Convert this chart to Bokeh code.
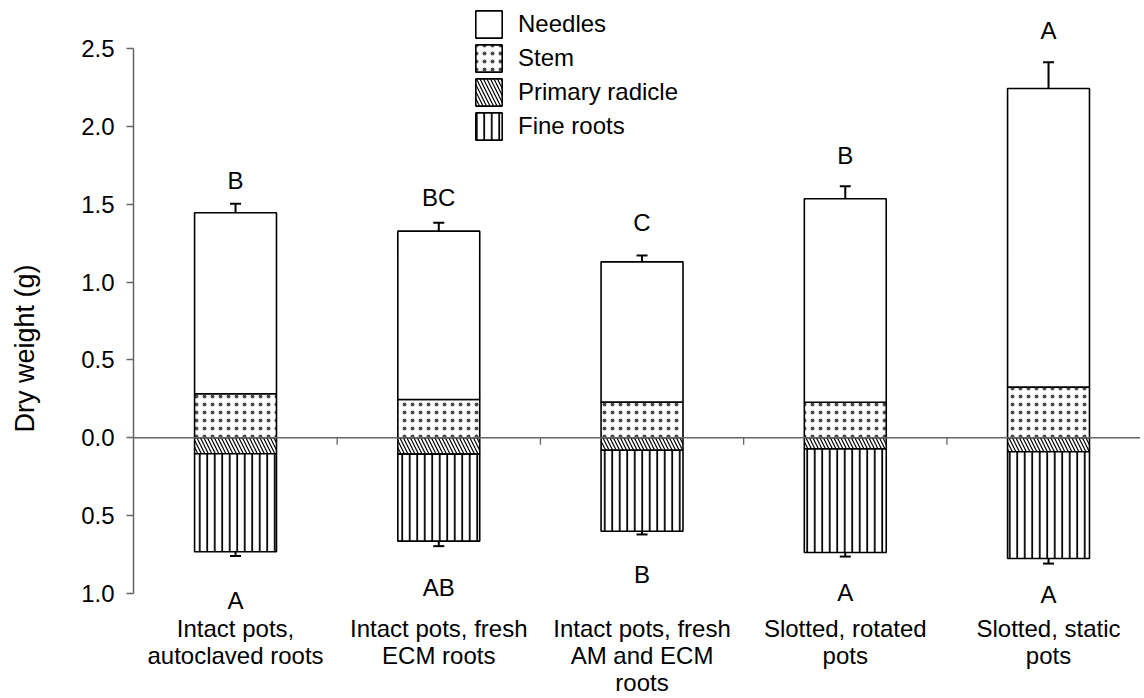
from bokeh.plotting import figure
from bokeh.models import (Range1d, FixedTicker, Span, Whisker, ColumnDataSource,
                          Legend, LegendItem, TeeHead, CustomJSTickFormatter)
from bokeh.core.properties import value
from bokeh.embed import file_html
from bokeh.resources import INLINE

# ---------------- data ----------------
categories = ["Intact pots,\nautoclaved roots",
              "Intact pots, fresh\nECM roots",
              "Intact pots, fresh\nAM and ECM\nroots",
              "Slotted, rotated\npots",
              "Slotted, static\npots"]
needles = [1.162, 1.081, 0.901, 1.307, 1.918]
stem = [0.283, 0.246, 0.229, 0.228, 0.325]
primary_radicle = [0.103, 0.105, 0.080, 0.071, 0.090]
fine_roots = [0.629, 0.559, 0.520, 0.666, 0.685]
shoot_se = [0.058, 0.054, 0.041, 0.081, 0.169]
root_se = [0.028, 0.032, 0.021, 0.026, 0.033]
shoot_letters = ["B", "BC", "C", "B", "A"]
root_letters = ["A", "AB", "B", "A", "A"]
shoot_letter_y = [1.654, 1.541, 1.381, 1.815, 2.619]
root_letter_y = [-1.043, -0.963, -0.878, -0.995, -1.006]
y_ticks = [-1.0, -0.5, 0.0, 0.5, 1.0, 1.5, 2.0, 2.5]

FONT = "Liberation Sans"
FS = "24px"
AXIS_GREY = "#666666"

xs = [i + 1 for i in range(len(categories))]
shoot_total = [s + n for s, n in zip(stem, needles)]
root_total = [-(r + f) for r, f in zip(primary_radicle, fine_roots)]

src = ColumnDataSource(dict(
    x=xs, stem=stem, needles=needles,
    radicle=[-v for v in primary_radicle], fine=[-v for v in fine_roots],
))

p = figure(width=1140, height=696, x_range=Range1d(0.498, 5.4525),
           y_range=Range1d(-1.6618, 2.8086), output_backend="svg",
           toolbar_location=None, x_axis_location=None,
           min_border_left=133, min_border_right=0, min_border_top=0,
           min_border_bottom=0)
p.outline_line_color = None
p.xgrid.visible = False
p.ygrid.visible = False
p.background_fill_color = "white"

bar_w = 0.403
common = dict(x="x", width=bar_w, source=src, fill_color="white",
              line_color="black", line_width=1.6, hatch_color="black")

up = p.vbar_stack(["stem", "needles"], hatch_pattern=["dot", " "],
                  hatch_scale=[8, 8], hatch_weight=[0.5, 1],
                  hatch_alpha=[0.7, 1], **common)
down = p.vbar_stack(["radicle", "fine"],
                    hatch_pattern=["left_diagonal_line", "vertical_line"],
                    hatch_scale=[7, 7.5], hatch_weight=[1.2, 1.8], **common)

# error bars
wsrc_top = ColumnDataSource(dict(x=xs, lower=shoot_total,
                                 upper=[t + e for t, e in zip(shoot_total, shoot_se)]))
wsrc_bot = ColumnDataSource(dict(x=xs, upper=root_total,
                                 lower=[t - e for t, e in zip(root_total, root_se)]))
p.add_layout(Whisker(base="x", lower="lower", upper="upper", source=wsrc_top,
                     lower_head=None, upper_head=TeeHead(size=11, line_width=2),
                     line_width=2, line_color="black"))
p.add_layout(Whisker(base="x", lower="lower", upper="upper", source=wsrc_bot,
                     upper_head=None, lower_head=TeeHead(size=11, line_width=2),
                     line_width=2, line_color="black"))

# zero line and its tick marks between categories
p.add_layout(Span(location=0, dimension="width", line_color=AXIS_GREY, line_width=1.3))
mids = [x + 0.5 for x in xs[:-1]]
p.segment(x0=mids, x1=mids, y0=[0] * len(mids), y1=[-0.045] * len(mids),
          line_color=AXIS_GREY, line_width=1.3)

# significance letters
p.text(x=xs, y=shoot_letter_y, text=shoot_letters, text_align="center",
       text_baseline="middle", text_font=value(FONT), text_font_size=FS,
       text_color="black")
p.text(x=xs, y=root_letter_y, text=root_letters, text_align="center",
       text_baseline="middle", text_font=value(FONT), text_font_size=FS,
       text_color="black")

# category labels
p.text(x=xs, y=[-1.138] * len(xs), text=categories, text_align="center",
       text_baseline="top", text_font=value(FONT), text_font_size=FS,
       text_line_height=1.0, text_color="black")

# y axis
ax = p.yaxis[0]
ax.bounds = (-1.0, 2.5)
ax.ticker = FixedTicker(ticks=y_ticks)
ax.formatter = CustomJSTickFormatter(code="return Math.abs(tick).toFixed(1);")
ax.major_tick_out = 7
ax.major_tick_in = 0
ax.minor_tick_line_color = None
ax.axis_line_color = AXIS_GREY
ax.axis_line_width = 1.5
ax.major_tick_line_color = AXIS_GREY
ax.major_tick_line_width = 1.3
ax.major_label_text_font = FONT
ax.major_label_text_font_size = FS
ax.major_label_text_color = "black"
ax.major_label_standoff = 12
ax.axis_label = "Dry weight (g)"
ax.axis_label_text_font = FONT
ax.axis_label_text_font_size = "27px"
ax.axis_label_text_font_style = "normal"
ax.axis_label_text_color = "black"
ax.axis_label_standoff = 38

legend = Legend(items=[
    LegendItem(label="Needles", renderers=[up[1]]),
    LegendItem(label="Stem", renderers=[up[0]]),
    LegendItem(label="Primary radicle", renderers=[down[0]]),
    LegendItem(label="Fine roots", renderers=[down[1]]),
], location=(339, 553), padding=0, margin=0, spacing=0,
    glyph_width=33, glyph_height=34, label_height=34, label_standoff=13,
    border_line_color=None, background_fill_alpha=0,
    label_text_font=FONT, label_text_font_size=FS, label_text_color="black")
p.add_layout(legend)

open("out.html", "w").write(file_html(p, INLINE))
